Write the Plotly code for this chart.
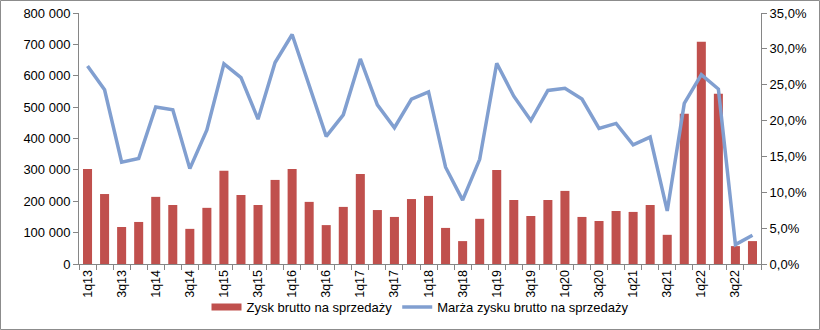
import plotly.graph_objects as go

quarters = [
    "1q13", "2q13", "3q13", "4q13", "1q14", "2q14", "3q14", "4q14",
    "1q15", "2q15", "3q15", "4q15", "1q16", "2q16", "3q16", "4q16",
    "1q17", "2q17", "3q17", "4q17", "1q18", "2q18", "3q18", "4q18",
    "1q19", "2q19", "3q19", "4q19", "1q20", "2q20", "3q20", "4q20",
    "1q21", "2q21", "3q21", "4q21", "1q22", "2q22", "3q22", "4q22",
]

# Gross profit on sales (PLN thousands)
zysk_brutto = [
    303000, 223000, 118000, 134000, 214000, 188000, 112000, 179000,
    297000, 220000, 188000, 268000, 303000, 198000, 124000, 182000,
    287000, 172000, 150000, 207000, 217000, 115000, 73000, 144000,
    300000, 204000, 153000, 204000, 233000, 150000, 137000, 169000,
    166000, 188000, 93000, 479000, 708000, 543000, 57000, 73000,
]

# Gross margin on sales
marza = [
    0.276, 0.243, 0.142, 0.147, 0.219, 0.215, 0.133, 0.187,
    0.279, 0.260, 0.202, 0.281, 0.320, 0.249, 0.178, 0.208,
    0.286, 0.222, 0.190, 0.230, 0.240, 0.135, 0.089, 0.146,
    0.280, 0.234, 0.200, 0.242, 0.245, 0.230, 0.189, 0.196,
    0.166, 0.177, 0.074, 0.224, 0.264, 0.244, 0.027, 0.040,
]

# only every other quarter gets a label
tick_text = [q if i % 2 == 0 else "" for i, q in enumerate(quarters)]

FONT = "Liberation Sans"
AXIS_COLOR = "#868686"
BAR_COLOR = "#C0504D"
LINE_COLOR = "#819FD0"

fig = go.Figure()
fig.add_trace(go.Bar(
    x=quarters, y=zysk_brutto, name="Zysk brutto na sprzedaży",
    marker=dict(color=BAR_COLOR, line=dict(width=0)),
    yaxis="y", legendgroup="zysk", showlegend=False,
))
# wide flat swatch for the bar series in the legend
fig.add_trace(go.Scatter(
    x=[None], y=[None], name="Zysk brutto na sprzedaży",
    mode="lines", line=dict(color=BAR_COLOR, width=7),
    legendgroup="zysk", showlegend=True, hoverinfo="skip",
))
fig.add_trace(go.Scatter(
    x=quarters, y=marza, name="Marża zysku brutto na sprzedaży",
    mode="lines", line=dict(color=LINE_COLOR, width=3.5),
    yaxis="y2",
))

W, H = 820, 330
ml, mr, mt, mb = 79, 59, 13, 66
pw, ph = W - ml - mr, H - mt - mb

fig.update_layout(
    width=W, height=H,
    margin=dict(l=ml, r=mr, t=mt, b=mb, pad=0, autoexpand=False),
    paper_bgcolor="white", plot_bgcolor="white",
    separators=", ",
    font=dict(family=FONT, size=13, color="#000000"),
    bargap=0.47,
    showlegend=True,
    legend=dict(
        orientation="h", x=0.5, xanchor="center", y=-0.112, yanchor="top",
        font=dict(family=FONT, size=13), itemwidth=30,
        bgcolor="rgba(0,0,0,0)", tracegroupgap=0,
    ),
    xaxis=dict(
        type="category", tickmode="array", tickvals=quarters, ticktext=tick_text,
        tickangle=-90, tickson="boundaries", ticks="outside", ticklen=5,
        tickcolor=AXIS_COLOR, showline=True, linecolor=AXIS_COLOR, linewidth=1,
        showgrid=False, zeroline=False, tickfont=dict(size=12.5), automargin=False,
    ),
    yaxis=dict(
        range=[0, 800000], dtick=100000, tickformat=",d",
        ticks="outside", ticklen=5, tickcolor=AXIS_COLOR,
        showline=True, linecolor=AXIS_COLOR, linewidth=1,
        showgrid=False, zeroline=False, tickfont=dict(size=13), automargin=False,
    ),
    yaxis2=dict(
        range=[0, 0.35], dtick=0.05, tickformat=".1%", overlaying="y", side="right",
        ticks="outside", ticklen=5, tickcolor=AXIS_COLOR,
        showline=True, linecolor=AXIS_COLOR, linewidth=1,
        showgrid=False, zeroline=False, tickfont=dict(size=13), automargin=False,
    ),
)

# thin frame around the whole chart
fig.add_shape(
    type="rect", xref="paper", yref="paper",
    x0=(0.5 - ml) / pw, x1=(W - 0.5 - ml) / pw,
    y0=-(mb - 0.5) / ph, y1=1 + (mt - 0.5) / ph,
    line=dict(color="#8C8C8C", width=1), fillcolor="rgba(0,0,0,0)", layer="below",
)

fig.write_html("out.html")
